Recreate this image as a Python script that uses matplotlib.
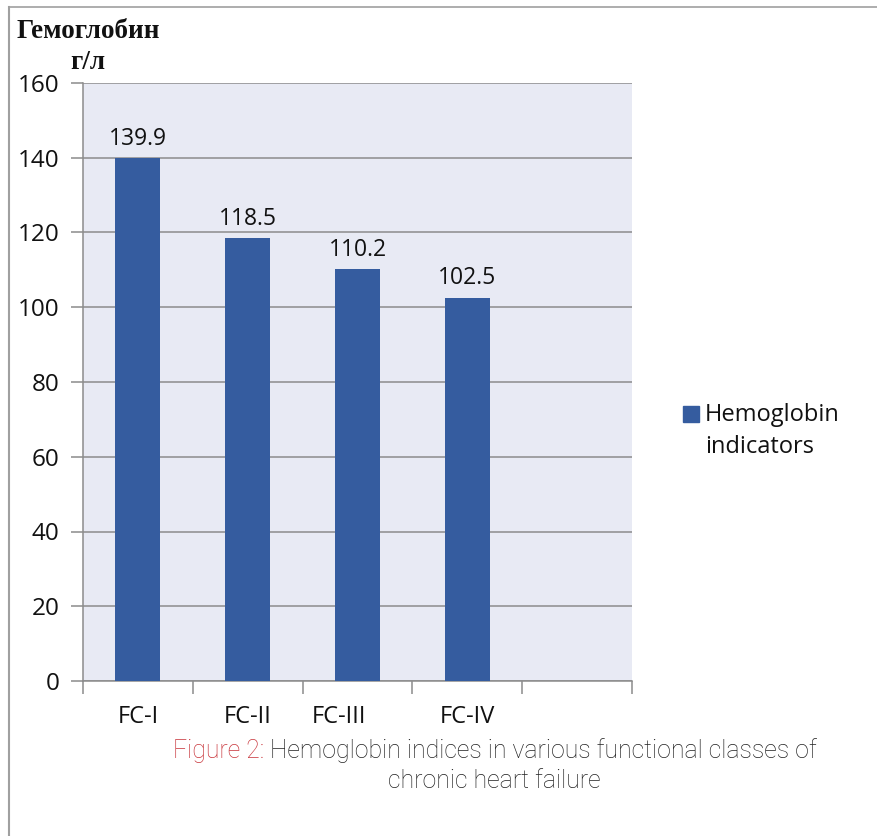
import matplotlib
matplotlib.use("Agg")
import matplotlib.pyplot as plt
from matplotlib.lines import Line2D
from matplotlib.patches import Rectangle
import matplotlib.transforms as mtransforms

categories = ["FC-I", "FC-II", "FC-III", "FC-IV"]
values = [139.9, 118.5, 110.2, 102.5]
value_labels = ["139.9", "118.5", "110.2", "102.5"]
n_slots = 5
yticks = [0, 20, 40, 60, 80, 100, 120, 140, 160]
series_name = "Hemoglobin\nindicators"
ylabel_text = "Гемоглобин\nг/л"
caption_red = "Figure 2: "
caption_rest_1 = "Hemoglobin indices in various functional classes of"
caption_rest_2 = "chronic heart failure"

BAR = "#355C9F"
BG = "#E8EAF4"
GRID = "#8C8C8C"
FONT = "Open Sans"
CAPFONT = "Roboto"

W, H = 878, 836
fig = plt.figure(figsize=(W / 100, H / 100), dpi=100)
ax = fig.add_axes([83 / W, 1 - 681 / H, (632 - 83) / W, (681 - 83) / H])
ax.set_facecolor(BG)

x = list(range(len(categories)))
ax.bar(x, values, width=0.41, color=BAR, zorder=3)
for xi, v, lab in zip(x, values, value_labels):
    ax.text(xi, v + 2.0, lab, ha="center", va="bottom", fontsize=16.5,
            family=FONT, color="#111111", zorder=4)

ax.set_xlim(-0.5, n_slots - 0.5)
ax.set_ylim(0, 160)
ax.set_yticks(yticks)
ax.set_yticklabels([str(t) for t in yticks], fontsize=17.5, family=FONT, color="#111111")
ax.yaxis.grid(True, color=GRID, linewidth=1.1, zorder=0)
ax.set_axisbelow(True)

# category slot boundaries as ticks
ax.set_xticks([i - 0.5 for i in range(n_slots + 1)])
ax.set_xticklabels([])
ax.tick_params(axis="x", length=9, width=1.1, color=GRID, direction="out")
ax.tick_params(axis="y", length=9, width=1.1, color=GRID, direction="out", pad=8)
for xi, c in zip(x, categories):
    off = -18 if c == "FC-III" else 0
    tr = ax.get_xaxis_transform() + mtransforms.ScaledTranslation(off / 100, 0, fig.dpi_scale_trans)
    ax.text(xi, -0.060, c, transform=tr, ha="center", va="center",
            fontsize=17, family=FONT, color="#111111")

for s in ["top", "right"]:
    ax.spines[s].set_visible(False)
for s in ["left", "bottom"]:
    ax.spines[s].set_color(GRID)
    ax.spines[s].set_linewidth(1.1)

# y-axis title
fig.text(88 / W, 1 - 47 / H, ylabel_text, ha="center", va="center",
         fontsize=19.5, family="Liberation Serif", weight="bold",
         linespacing=1.3, color="#111111")

# legend (drawn manually so the key aligns with the first line)
fig.add_artist(Rectangle((683 / W, 1 - 422 / H), 16 / W, 16 / H,
                         transform=fig.transFigure, facecolor=BAR, edgecolor=BAR))
fig.text(705 / W, 1 - 431 / H, series_name, ha="left", va="center",
         fontsize=17, family=FONT, color="#111111", linespacing=1.45)

# caption
cap_kw = dict(fontsize=17.9, family=CAPFONT, weight="light", va="center")
t1 = fig.text(173 / W, 1 - 751 / H, caption_red, ha="left", color="#C8343A", **cap_kw)
fig.canvas.draw()
bb = t1.get_window_extent()
fig.text(bb.x1 / W, 1 - 751 / H, caption_rest_1, ha="left", color="#222222", **cap_kw)
fig.text(494 / W, 1 - 781 / H, caption_rest_2, ha="center", color="#222222", **cap_kw)

# page border (top and left)
fig.add_artist(Line2D([8.5 / W, 8.5 / W], [0, 1 - 7 / H], transform=fig.transFigure,
                      color="#A0A0A0", linewidth=1.5))
fig.add_artist(Line2D([8.5 / W, 1], [1 - 7 / H, 1 - 7 / H], transform=fig.transFigure,
                      color="#A0A0A0", linewidth=1.2))

fig.savefig("out.png", dpi=100, facecolor="white")
